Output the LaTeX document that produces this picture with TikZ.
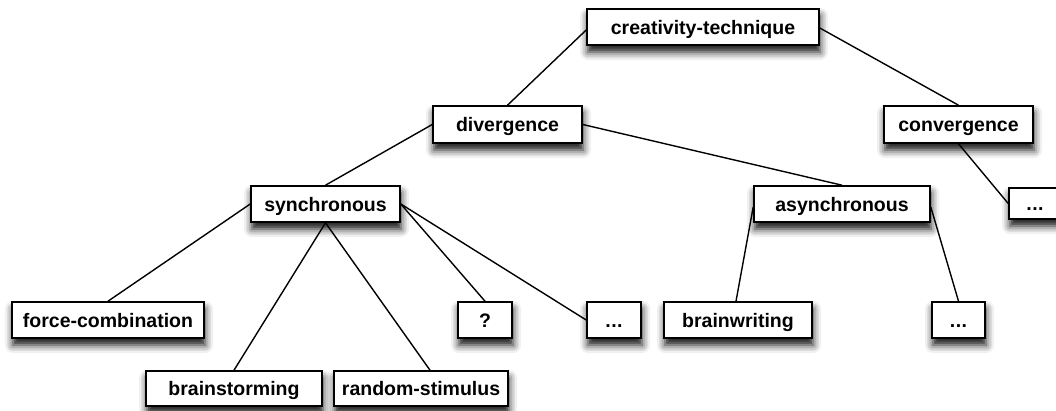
\documentclass[tikz,border=0pt]{standalone}
\usepackage{fontspec}
\setmainfont{Liberation Sans}
\usetikzlibrary{shadows.blur}
\newcommand{\threedots}{.\kern0.5pt.\kern0.5pt.}
\begin{document}
\begin{tikzpicture}[x=1pt,y=-1pt,
  box/.style={draw=black, line width=1.6pt, fill=white, inner sep=0pt,
    font=\fontsize{19.5}{23}\selectfont\bfseries,
    text height=14pt, text depth=0pt,
    blur shadow={shadow xshift=1pt, shadow yshift=-7pt,
      shadow blur radius=8pt, shadow opacity=95}},
  link/.style={draw=black, line width=1.4pt}]
\useasboundingbox (0,0) rectangle (1056,410);

% boxes: centre position and size
\node[box, minimum width=232pt, minimum height=36pt] (ct)    at (703,27)     {creativity-technique};
\node[box, minimum width=149pt, minimum height=37pt] (div)   at (507.5,124.5) {divergence};
\node[box, minimum width=149pt, minimum height=37pt] (conv)  at (958.5,124.5) {convergence};
\node[box, minimum width=149pt, minimum height=36pt] (sync)  at (325.5,204)  {synchronous};
\node[box, minimum width=176pt, minimum height=36pt] (async) at (842,204)    {asynchronous};
\node[box, minimum width=52pt,  minimum height=31pt] (cdots) at (1035,203.5) {\threedots};
\node[box, minimum width=192pt, minimum height=36pt] (fc)    at (108,320)    {force-combination};
\node[box, minimum width=54pt,  minimum height=36pt] (q)     at (485,320)    {?};
\node[box, minimum width=54pt,  minimum height=36pt] (sdots) at (614,320)    {\threedots};
\node[box, minimum width=148pt, minimum height=36pt] (bw)    at (738,320)    {brainwriting};
\node[box, minimum width=53pt,  minimum height=36pt] (adots) at (958.5,320)  {\threedots};
\node[box, minimum width=176pt, minimum height=35pt] (bs)    at (234,388.5)  {brainstorming};
\node[box, minimum width=174pt, minimum height=35pt] (rs)    at (421,388.5)  {random-stimulus};

% connectors
\path[link] ([yshift=-3pt]ct.west) -- (div.north);
\path[link] ([yshift=-1pt]ct.east) -- (conv.north);
\path[link] (div.west) -- (sync.north);
\path[link] (div.east) -- (async.north);
\path[link] (conv.south) -- (cdots.west);
\path[link] (sync.west) -- (fc.north);
\path[link] (sync.south) -- (bs.north);
\path[link] (sync.south) -- ([xshift=9pt]rs.north);
\path[link] (sync.east) -- (q.north);
\path[link] (sync.east) -- (sdots.west);
\path[link] ([yshift=-3pt]async.west) -- ([xshift=-2pt]bw.north);
\path[link] ([yshift=-3pt]async.east) -- (adots.north);
\end{tikzpicture}
\end{document}
